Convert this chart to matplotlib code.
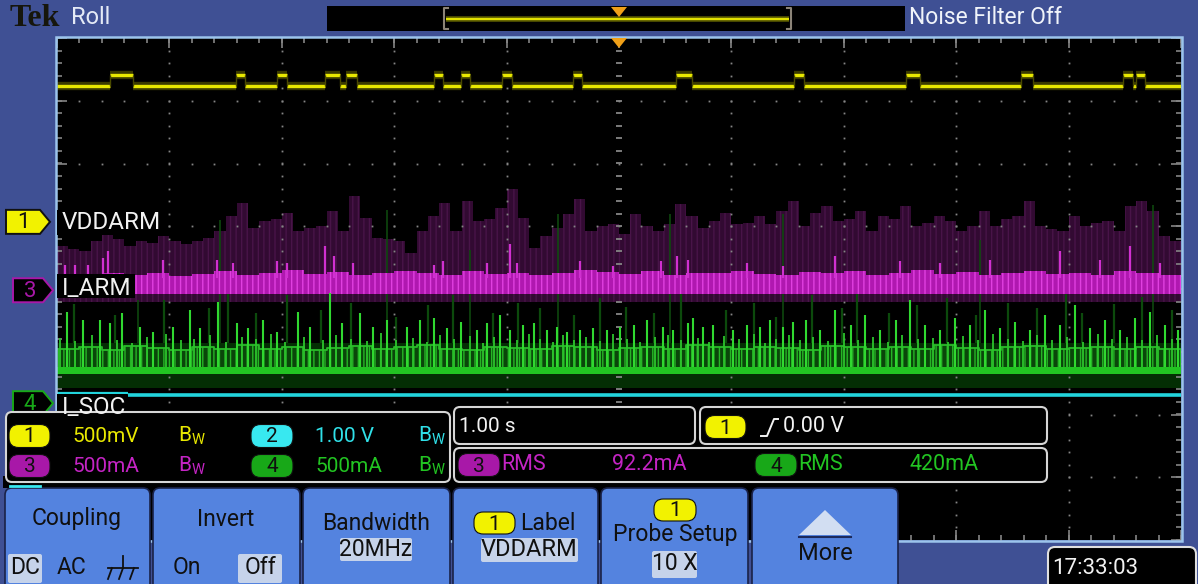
import numpy as np
import matplotlib
matplotlib.use("Agg")
import matplotlib.pyplot as plt
from matplotlib.patches import FancyBboxPatch, Polygon, Rectangle
from matplotlib import font_manager as fm

# ============================ DATA ============================
sec_per_div = 1.00
n_hdiv = 10
n_vdiv = 8

ch1_V_per_div = 0.5
ch2_V_per_div = 1.0
ch3_mA_per_div = 500
ch4_mA_per_div = 500

ch1_name = "VDDARM"
ch3_name = "I_ARM"
ch4_name = "I_SOC"

# Ch1 (VDDARM): two-level supply rail, pulses
ch1_low_V = 1.08
ch1_high_V = 1.17
ch1_pulse_start_s = [0.47, 1.59, 1.96, 2.38, 2.57, 3.35, 3.59, 3.96, 4.59,
                     5.51, 6.56, 7.55, 8.58, 9.48, 9.60]
ch1_pulse_end_s = [0.68, 1.67, 2.05, 2.52, 2.67, 3.43, 3.67, 4.05, 4.67,
                   5.65, 6.65, 7.68, 8.68, 9.57, 9.68]

# Ch2: flat line
ch2_edges_s = [0.0, 0.63, 10.0]
ch2_level_V = [0.03, 0.0]

# Ch3 (I_ARM): persistence envelope (every 0.1 s), bright band, spikes
ch3_env_dt_s = 0.1
ch3_env_mA = [350, 325, 310, 390, 445, 405, 350, 390, 375, 430,
              390, 365, 390, 420, 470, 590, 695, 495, 550, 565,
              615, 470, 495, 510, 630, 470, 750, 575, 415, 405,
              390, 295, 470, 590, 695, 470, 710, 550, 565, 655,
              805, 575, 335, 430, 495, 605, 725, 470, 510, 525,
              445, 605, 510, 470, 525, 685, 590, 495, 550, 615,
              525, 535, 590, 525, 630, 710, 510, 615, 670, 550,
              565, 630, 470, 590, 565, 670, 510, 535, 590, 550,
              470, 510, 630, 510, 565, 590, 710, 510, 485, 470,
              590, 510, 535, 550, 470, 670, 710, 630, 430, 390]
ch3_floor_mA = -90
ch3_band_dt_s = 0.2
ch3_band_bottom_mA = -28
ch3_band_top_mA = [120, 110, 135, 125, 140, 115, 130, 150, 125, 140,
                   160, 130, 145, 120, 135, 150, 140, 125, 155, 130,
                   140, 120, 135, 160, 145, 130, 150, 125, 140, 135,
                   155, 130, 120, 145, 135, 150, 125, 140, 160, 130,
                   145, 120, 135, 150, 130, 140, 125, 150, 135, 120]
ch3_spike_s = [0.07, 0.16, 0.28, 0.41, 0.45, 0.94, 1.42, 1.57, 1.96, 2.05,
               2.38, 2.46, 2.63, 3.35, 3.43, 3.83, 4.03, 4.09, 4.65, 4.95,
               5.37, 5.52, 5.61, 6.14, 6.46, 6.92, 7.50, 7.86, 8.30, 8.92,
               9.28, 9.55, 9.81]
ch3_spike_mA = [205, 205, 205, 255, 310, 245, 245, 215, 230, 215,
                350, 270, 215, 205, 230, 215, 365, 215, 230, 190,
                230, 270, 245, 215, 190, 270, 230, 215, 245, 310,
                245, 350, 215]

# Ch4 (I_SOC): persistence band, base line, dense region, spikes
ch4_persist_bottom_mA = 120
ch4_persist_top_mA = 480
ch4_base_bottom_mA = 235
ch4_base_top_mA = 285
ch4_dense_dt_s = 0.2
ch4_dense_top_mA = [430, 445, 420, 455, 440, 425, 450, 435, 460, 430,
                    445, 420, 440, 455, 430, 445, 460, 435, 425, 450,
                    440, 430, 455, 445, 420, 440, 450, 435, 460, 445,
                    430, 450, 440, 425, 455, 445, 435, 450, 430, 460,
                    440, 425, 445, 455, 430, 440, 450, 435, 445, 430]
ch4_spike_s = [0.09, 0.23, 0.38, 0.47, 0.58, 0.74, 0.85, 1.03, 1.18, 1.27,
               1.43, 1.60, 1.70, 1.83, 1.96, 2.14, 2.25, 2.43, 2.54, 2.70,
               2.81, 2.94, 3.11, 3.23, 3.35, 3.47, 3.59, 3.74, 3.83, 3.94,
               4.03, 4.15, 4.24, 4.36, 4.45, 4.54, 4.65, 4.77, 4.89, 5.01,
               5.13, 5.25, 5.39, 5.48, 5.61, 5.66, 5.75, 5.84, 6.01, 6.14,
               6.25, 6.34, 6.46, 6.55, 6.66, 6.79, 6.92, 7.06, 7.19, 7.32,
               7.46, 7.59, 7.72, 7.86, 7.99, 8.12, 8.26, 8.39, 8.52, 8.66,
               8.79, 8.92, 9.06, 9.19, 9.32, 9.46, 9.59, 9.72, 9.86, 9.97]
ch4_spike_mA = [725, 660, 660, 640, 715, 605, 565, 605, 740, 600,
                805, 640, 600, 660, 565, 725, 605, 875, 640, 715,
                605, 660, 605, 660, 675, 600, 645, 580, 640, 700,
                580, 620, 640, 580, 605, 565, 580, 600, 580, 605,
                620, 660, 605, 580, 640, 675, 605, 620, 580, 620,
                605, 660, 605, 645, 660, 580, 740, 620, 700, 580,
                660, 820, 620, 580, 675, 620, 740, 600, 645, 580,
                700, 620, 780, 600, 660, 580, 675, 725, 620, 580]
ch4_mid_s = [0.03, 0.16, 0.31, 0.53, 0.67, 0.80, 0.97, 1.10, 1.22, 1.36,
             1.50, 1.65, 1.77, 1.90, 2.03, 2.20, 2.37, 2.48, 2.62, 2.76,
             2.88, 3.02, 3.17, 3.29, 3.41, 3.53, 3.67, 3.79, 3.89, 4.09,
             4.20, 4.30, 4.41, 4.50, 4.60, 4.71, 4.83, 4.95, 5.07, 5.19,
             5.32, 5.44, 5.55, 5.70, 5.80, 5.93, 6.07, 6.20, 6.30, 6.40,
             6.51, 6.61, 6.73, 6.86, 7.00, 7.13, 7.26, 7.39, 7.52, 7.66,
             7.79, 7.93, 8.06, 8.19, 8.33, 8.46, 8.59, 8.72, 8.85, 8.99,
             9.13, 9.26, 9.39, 9.52, 9.65, 9.79, 9.92]
ch4_mid_mA = [520, 495, 540, 505, 480, 530, 550, 500, 515, 545,
              490, 525, 510, 555, 485, 530, 500, 540, 515, 495,
              560, 505, 520, 490, 545, 510, 535, 480, 525, 500,
              550, 515, 490, 540, 505, 530, 495, 555, 510, 485,
              525, 545, 500, 520, 490, 535, 510, 550, 480, 515,
              540, 500, 525, 495, 560, 505, 530, 490, 545, 510,
              520, 485, 535, 500, 550, 515, 495, 540, 505, 525,
              490, 555, 510, 530, 500, 545, 515]
ch4_dim_s = [0.15, 0.52, 0.95, 1.35, 1.52, 1.77, 2.05, 2.35, 2.62, 3.02,
             3.30, 3.52, 3.88, 4.10, 4.30, 4.60, 4.83, 5.06, 5.31, 5.55,
             5.95, 6.20, 6.40, 6.72, 6.98, 7.12, 7.40, 7.65, 7.92, 8.18,
             8.46, 8.72, 8.98, 9.12, 9.40, 9.65, 9.92]
ch4_dim_mA = [790, 700, 820, 760, 900, 720, 860, 740, 800, 690,
              780, 860, 720, 800, 760, 700, 840, 770, 720, 880,
              740, 800, 690, 860, 760, 900, 720, 780, 840, 700,
              800, 760, 880, 720, 790, 850, 740]
ch4_faint_s = [0.72, 1.45, 2.94, 3.67, 4.46, 5.45, 6.46, 8.21, 9.75]
ch4_faint_mA = [820, 1460, 1540, 1220, 1510, 1510, 1510, 1300, 1580]

# Readouts
scale_readouts = [("1", "500mV"), ("2", "1.00 V"), ("3", "500mA"), ("4", "500mA")]
timebase_text = "1.00 s"
trigger_source = "1"
trigger_level_text = "0.00 V"
rms_ch3_text = "92.2mA"
rms_ch4_text = "420mA"
clock_text = "17:33:03"
mode_text = "Roll"
filter_text = "Noise Filter Off"

# ============================ LAYOUT / STYLE ============================
W, H = 1198, 584
GL, GR, GT, GB = 57, 1181, 38, 540          # graticule box (pixels)
DIV_PY = (GB - GT) / n_vdiv

ch1_off, ch2_off, ch3_off, ch4_off = 1.07, -1.69, -0.02, -1.82   # divisions

BLUE = "#3f5094"
BTN = "#5483df"
HIL = "#c6d3ea"
YEL, YEL_T = "#f2f200", "#e8e800"
CYA, CYA_T = "#38e8f0", "#30e0e8"
PUR, PUR_T = "#a818a8", "#c424c4"
GRN, GRN_T = "#18a818", "#22c422"


def pick_font(cands):
    for c in cands:
        try:
            fm.findfont(fm.FontProperties(family=c), fallback_to_default=False)
            return c
        except Exception:
            continue
    return "DejaVu Sans"


NARROW = pick_font(["Liberation Sans Narrow", "Roboto", "Liberation Sans", "DejaVu Sans"])
SERIF = pick_font(["Liberation Serif", "DejaVu Serif"])
plt.rcParams["mathtext.fontset"] = "custom"
plt.rcParams["mathtext.rm"] = NARROW

fig = plt.figure(figsize=(W / 100, H / 100), dpi=100, facecolor=BLUE)

# ---------- scope axes ----------
ax = fig.add_axes([GL / W, 1 - GB / H, (GR - GL) / W, (GB - GT) / H], zorder=1)
ax.set_facecolor("black")
ax.set_xlim(0, n_hdiv * sec_per_div)
ax.set_ylim(-n_vdiv / 2, n_vdiv / 2)
ax.set_xticks([]); ax.set_yticks([])
for s in ax.spines.values():
    s.set_visible(False)


def to_div(val, scale, off):
    r = off + np.asarray(val, dtype=float) / scale
    return float(r) if r.ndim == 0 else r


# graticule
gc = "#858585"
minor = 0.2
for k in range(1, n_hdiv):
    if k == n_hdiv // 2:
        continue
    ys = np.arange(-n_vdiv / 2 + minor, n_vdiv / 2 - 1e-6, minor)
    ax.plot(np.full_like(ys, k * sec_per_div), ys, ls="none", marker="s", ms=1.3, mec="none", mfc=gc, zorder=3)
for k in range(-n_vdiv // 2 + 1, n_vdiv // 2):
    if k == 0:
        continue
    xs = np.arange(minor, n_hdiv - 1e-6, minor) * sec_per_div
    ax.plot(xs, np.full_like(xs, k), ls="none", marker="s", ms=1.3, mec="none", mfc=gc, zorder=3)
ys = np.arange(-n_vdiv / 2 + minor, n_vdiv / 2 - 1e-6, minor)
ax.plot(np.full_like(ys, n_hdiv / 2 * sec_per_div), ys, ls="none", marker="_", ms=5, mew=1.3, mec=gc, zorder=3)
xs = np.arange(minor, n_hdiv - 1e-6, minor) * sec_per_div
ax.plot(xs, np.zeros_like(xs), ls="none", marker="|", ms=5, mew=1.3, mec=gc, zorder=3)
xs_all = np.arange(0, n_hdiv + 1e-6, minor) * sec_per_div
xs_maj = np.arange(0, n_hdiv + 1) * sec_per_div
for yy in (n_vdiv / 2, -n_vdiv / 2):
    ax.plot(xs_all, np.full_like(xs_all, yy), ls="none", marker="|", ms=7, mew=1.2, mec=gc, zorder=3)
    ax.plot(xs_maj, np.full_like(xs_maj, yy), ls="none", marker="|", ms=14, mew=1.2, mec=gc, zorder=3)
ys_all = np.arange(-n_vdiv / 2, n_vdiv / 2 + 1e-6, minor)
ys_maj = np.arange(-n_vdiv // 2, n_vdiv // 2 + 1).astype(float)
for xx in (0, n_hdiv * sec_per_div):
    ax.plot(np.full_like(ys_all, xx), ys_all, ls="none", marker="_", ms=7, mew=1.2, mec=gc, zorder=3)
    ax.plot(np.full_like(ys_maj, xx), ys_maj, ls="none", marker="_", ms=14, mew=1.2, mec=gc, zorder=3)

# ---- channel 3 (magenta) ----
t_env = np.arange(len(ch3_env_mA)) * ch3_env_dt_s + ch3_env_dt_s / 2
t_env_e = np.concatenate([[0], t_env, [n_hdiv * sec_per_div]])
env_e = np.concatenate([[ch3_env_mA[0]], ch3_env_mA, [ch3_env_mA[-1]]])
ax.fill_between(t_env_e, to_div(ch3_floor_mA, ch3_mA_per_div, ch3_off),
                to_div(env_e, ch3_mA_per_div, ch3_off), step="mid",
                facecolor="#320a32", edgecolor="none", zorder=2)
ax.fill_between(t_env_e, to_div(ch3_floor_mA, ch3_mA_per_div, ch3_off),
                to_div(env_e, ch3_mA_per_div, ch3_off), step="mid",
                facecolor="none", edgecolor="#481448", hatch="|||", lw=0, zorder=2)
t_band = np.arange(len(ch3_band_top_mA)) * ch3_band_dt_s + ch3_band_dt_s / 2
t_band_e = np.concatenate([[0], t_band, [n_hdiv * sec_per_div]])
band_e = np.concatenate([[ch3_band_top_mA[0]], ch3_band_top_mA, [ch3_band_top_mA[-1]]])
ax.fill_between(t_band_e, to_div(ch3_band_bottom_mA, ch3_mA_per_div, ch3_off),
                to_div(band_e, ch3_mA_per_div, ch3_off), step="mid",
                facecolor="#b018b0", edgecolor="none", zorder=4)
ax.fill_between(t_band_e, to_div(ch3_band_bottom_mA, ch3_mA_per_div, ch3_off),
                to_div(band_e, ch3_mA_per_div, ch3_off), step="mid",
                facecolor="none", edgecolor="#e040e0", hatch="|||", lw=0, zorder=4)
ax.vlines(ch3_spike_s, to_div(100, ch3_mA_per_div, ch3_off),
          to_div(ch3_spike_mA, ch3_mA_per_div, ch3_off), color="#d030d0", lw=1.6, zorder=4)

# ---- channel 4 (green) ----
ax.fill_between([0, n_hdiv * sec_per_div], to_div(ch4_persist_bottom_mA, ch4_mA_per_div, ch4_off),
                to_div(ch4_persist_top_mA, ch4_mA_per_div, ch4_off), facecolor="#042e04",
                edgecolor="none", zorder=2)
ax.vlines(ch4_faint_s, to_div(ch4_persist_top_mA, ch4_mA_per_div, ch4_off),
          to_div(ch4_faint_mA, ch4_mA_per_div, ch4_off), color="#0e480e", lw=1.2, zorder=2)
ax.vlines(ch4_dim_s, to_div(ch4_persist_top_mA, ch4_mA_per_div, ch4_off),
          to_div(ch4_dim_mA, ch4_mA_per_div, ch4_off), color="#0c4a0c", lw=1.6, zorder=2)
t_dn = np.arange(len(ch4_dense_top_mA)) * ch4_dense_dt_s + ch4_dense_dt_s / 2
t_dn_e = np.concatenate([[0], t_dn, [n_hdiv * sec_per_div]])
dn_e = np.concatenate([[ch4_dense_top_mA[0]], ch4_dense_top_mA, [ch4_dense_top_mA[-1]]])
ax.fill_between(t_dn_e, to_div(ch4_base_top_mA, ch4_mA_per_div, ch4_off),
                to_div(dn_e, ch4_mA_per_div, ch4_off), step="mid",
                facecolor="#0a460a", edgecolor="#26b426", hatch="|||", lw=0, zorder=4)
ax.step(t_dn_e, to_div(dn_e, ch4_mA_per_div, ch4_off), where="mid", color="#2aba2a", lw=1.3, zorder=4)
ax.fill_between([0, n_hdiv * sec_per_div], to_div(ch4_base_bottom_mA, ch4_mA_per_div, ch4_off),
                to_div(ch4_base_top_mA, ch4_mA_per_div, ch4_off), facecolor="#22c422",
                edgecolor="none", zorder=4)
ax.vlines(ch4_mid_s, to_div(ch4_base_top_mA, ch4_mA_per_div, ch4_off),
          to_div(ch4_mid_mA, ch4_mA_per_div, ch4_off), color="#2cc42c", lw=1.3, zorder=4)
ax.vlines(ch4_spike_s, to_div(ch4_base_top_mA, ch4_mA_per_div, ch4_off),
          to_div(ch4_spike_mA, ch4_mA_per_div, ch4_off), color="#30d830", lw=1.5, zorder=4)

# ---- channel 2 (cyan) ----
ax.hlines(to_div(ch2_level_V, ch2_V_per_div, ch2_off), ch2_edges_s[:-1], ch2_edges_s[1:],
          color="#22d4dc", lw=[1.6, 2.6], zorder=5)

# ---- channel 1 (yellow) ----
ps = np.array(ch1_pulse_start_s); pe = np.array(ch1_pulse_end_s)
lo_s = np.concatenate([[0], pe]); lo_e = np.concatenate([ps, [n_hdiv * sec_per_div]])
y_lo = np.full(len(lo_s), to_div(ch1_low_V, ch1_V_per_div, ch1_off))
y_hi = np.full(len(ps), to_div(ch1_high_V, ch1_V_per_div, ch1_off))
for lw, c in ((6.0, "#3a3a00"), (2.4, "#e8e800")):
    ax.hlines(y_lo, lo_s, lo_e, color=c, lw=lw, zorder=5)
    ax.hlines(y_hi, ps, pe, color=c, lw=lw, zorder=5)
ax.vlines(np.concatenate([ps, pe]), y_lo[0], y_hi[0], color="#4a4a00", lw=1.0, zorder=5)

# ---------- UI overlay ----------
ui = fig.add_axes([0, 0, 1, 1], zorder=5)
ui.set_xlim(0, W); ui.set_ylim(H, 0); ui.axis("off"); ui.patch.set_visible(False)


def rbox(x0, y0, x1, y1, fc, ec="none", lw=0, r=4, z=6):
    ui.add_patch(FancyBboxPatch((x0, y0), x1 - x0, y1 - y0,
                                boxstyle=f"round,pad=0,rounding_size={r}",
                                fc=fc, ec=ec, lw=lw, zorder=z))


def T(x, y, s, c, size, ha="left", va="center", fam=None, weight="normal", z=10):
    ui.text(x, y, s, color=c, fontsize=size, ha=ha, va=va, family=fam or NARROW,
            weight=weight, zorder=z)


def pill(x0, x1, yc, label, fc, tc="#101010", h=23, size=15, z=9):
    rbox(x0, yc - h / 2, x1, yc + h / 2, fc, ec="#101010", lw=0.8, r=h * 0.42, z=z)
    T((x0 + x1) / 2, yc + 1, label, tc, size, ha="center", z=z + 1)


def bw(x, y, c):
    T(x, y, r"B$_{\rm W}$", c, 15, z=10)


def ypx(off):
    return GT + (n_vdiv / 2 - off) * DIV_PY


# top bar
T(10, 18, "Tek", "#16160c", 23, fam=SERIF, weight="bold")
T(71, 18, mode_text, "#e4eaf6", 17)
ui.add_patch(Rectangle((327, 6), 578, 25, fc="black", ec="none", zorder=6))
ui.plot([446, 789], [18.5, 18.5], color="#5a5a00", lw=4, zorder=7, solid_capstyle="butt")
ui.plot([446, 789], [18.5, 18.5], color="#e0e000", lw=1.6, zorder=7, solid_capstyle="butt")
ui.plot([448, 444, 444, 448], [8, 8, 29, 29], color="#8c8478", lw=1.5, zorder=7)
ui.plot([787, 791, 791, 787], [8, 8, 29, 29], color="#8c8478", lw=1.5, zorder=7)
ui.add_patch(Polygon([(611, 7), (627, 7), (619, 17)], closed=True, fc="#f0a018", ec="none", zorder=8))
T(909, 18, filter_text, "#f0f4fa", 16.5)

# graticule border + trigger marker
ui.add_patch(Rectangle((GL - 1, GT - 1), GR - GL + 2, GB - GT + 2, fc="none", ec="#9cc4ec", lw=1.8, zorder=6))
ui.add_patch(Polygon([(611, GT), (627, GT), (619, GT + 10)], closed=True, fc="#f0a018", ec="none", zorder=8))

# trace labels
ui.add_patch(Rectangle((GL, ypx(ch1_off) - 12), 101, 25, fc="black", ec="none", zorder=6))
T(62, ypx(ch1_off) + 1, ch1_name, "#f2f2f2", 17.5)
ui.add_patch(Rectangle((GL, ypx(ch3_off) - 16), 78, 24, fc="black", ec="none", zorder=6))
T(62, ypx(ch3_off) - 2, ch3_name, "#f2f2f2", 17.5)
ui.add_patch(Rectangle((GL, ypx(ch4_off) - 9), 70, 20, fc="black", ec="none", zorder=6))
T(62, ypx(ch4_off) + 4, ch4_name, "#f2f2f2", 17.5)


def chmark(y, fc, ec, tc, label, x0=6, x1=52):
    ui.add_patch(Polygon([(x0, y - 12), (x1 - 10, y - 12), (x1, y), (x1 - 10, y + 12), (x0, y + 12)],
                         closed=True, fc=fc, ec=ec, lw=1.4, zorder=7))
    T(x0 + 17, y + 1, label, tc, 16, ha="center", z=8)


chmark(ypx(ch1_off), YEL, "#111111", "#111111", "1", x0=6, x1=50)
chmark(ypx(ch3_off), "black", PUR, PUR, "3", x0=13, x1=53)
chmark(ypx(ch4_off), "black", GRN, GRN, "4", x0=13, x1=53)

# info panel
ui.add_patch(Rectangle((3, 476), 897, 12, fc="black", ec="none", zorder=6))
ui.plot([10, 40], [486, 486], color=CYA, lw=2, zorder=7)
rbox(6, 412, 450, 482, "black", ec="#d6d6d6", lw=1.5, r=6, z=7)
rbox(454, 407, 695, 444, "black", ec="#d6d6d6", lw=1.5, r=6, z=7)
rbox(700, 407, 1047, 444, "black", ec="#d6d6d6", lw=1.5, r=6, z=7)
rbox(454, 448, 1047, 482, "black", ec="#d6d6d6", lw=1.5, r=6, z=7)

row_y = [436, 466]
pill_cols = [(9, 50), (251, 293)]
text_x = [72, 315]
bw_x = [178, 418]
pill_colors = {"1": YEL, "2": CYA, "3": PUR, "4": GRN}
text_colors = {"1": YEL_T, "2": CYA_T, "3": PUR_T, "4": GRN_T}
for i, (ch, txt) in enumerate(scale_readouts):
    r, c = divmod(i, 2)
    pill(pill_cols[c][0], pill_cols[c][1], row_y[r], ch, pill_colors[ch])
    T(text_x[c], row_y[r], txt, text_colors[ch], 15)
    bw(bw_x[c], row_y[r], text_colors[ch])

T(459, 426, timebase_text, "#f2f2f2", 15)
pill(705, 746, 427, trigger_source, YEL)
ui.plot([761, 767, 774, 778], [436, 436, 419, 419], color="#f2f2f2", lw=1.4, zorder=10)
T(783, 426, trigger_level_text, "#f2f2f2", 15.5)
pill(458, 500, 465, "3", PUR)
T(501, 465, "RMS", PUR_T, 15.5)
T(612, 465, rms_ch3_text, PUR_T, 15.5)
pill(755, 797, 465, "4", GRN)
T(798, 465, "RMS", GRN_T, 15.5)
T(910, 465, rms_ch4_text, GRN_T, 15.5)

# menu buttons
btn_x = [(5, 150), (153, 300), (303, 450), (453, 598), (601, 748), (752, 898)]
for x0, x1 in btn_x:
    rbox(x0, 488, x1, 600, BTN, ec="#1a2248", lw=1.2, r=7, z=6)

T(77, 519, "Coupling", "#101010", 16.5, ha="center")
rbox(8, 554, 42, 583, HIL, r=2, z=7)
T(25, 568, "DC", "#101010", 16.5, ha="center")
T(72, 568, "AC", "#101010", 16.5, ha="center")
ui.plot([123, 123], [556, 568], color="#101010", lw=1.3, zorder=8)
ui.plot([108, 138], [568, 568], color="#101010", lw=1.3, zorder=8)
for gx in (112, 123, 134):
    ui.plot([gx, gx - 4], [568, 579], color="#101010", lw=1.3, zorder=8)

T(226, 519, "Invert", "#101010", 16.5, ha="center")
T(187, 568, "On", "#101010", 16.5, ha="center")
rbox(238, 554, 282, 583, HIL, r=2, z=7)
T(260, 568, "Off", "#101010", 16.5, ha="center")

T(376, 523, "Bandwidth", "#101010", 16.5, ha="center")
rbox(340, 538, 412, 561, HIL, r=2, z=7)
T(376, 549, "20MHz", "#101010", 16.5, ha="center")

pill(474, 515, 523, "1", YEL, h=22)
T(520, 523, "Label", "#101010", 16.5)
rbox(481, 538, 578, 562, HIL, r=2, z=7)
T(529, 549, ch1_name, "#101010", 17, ha="center")

pill(654, 696, 510, "1", YEL, h=22)
T(675, 535, "Probe Setup", "#101010", 16.5, ha="center")
rbox(652, 551, 697, 578, HIL, r=2, z=7)
T(675, 564, "10 X", "#101010", 16.5, ha="center")

ui.add_patch(Polygon([(799, 535), (851, 535), (825, 510)], closed=True, fc="#d2def2", ec="none", zorder=8))
ui.plot([799, 851], [537, 537], color="#1c2a5c", lw=1.5, zorder=8)
T(825, 553, "More", "#101010", 17, ha="center")

# clock
rbox(1048, 547, 1196, 600, "black", ec="#e0e0e0", lw=1.5, r=7, z=7)
T(1052, 569, clock_text, "#f2f2f2", 16)

fig.savefig("out.png", dpi=100, facecolor=BLUE)
